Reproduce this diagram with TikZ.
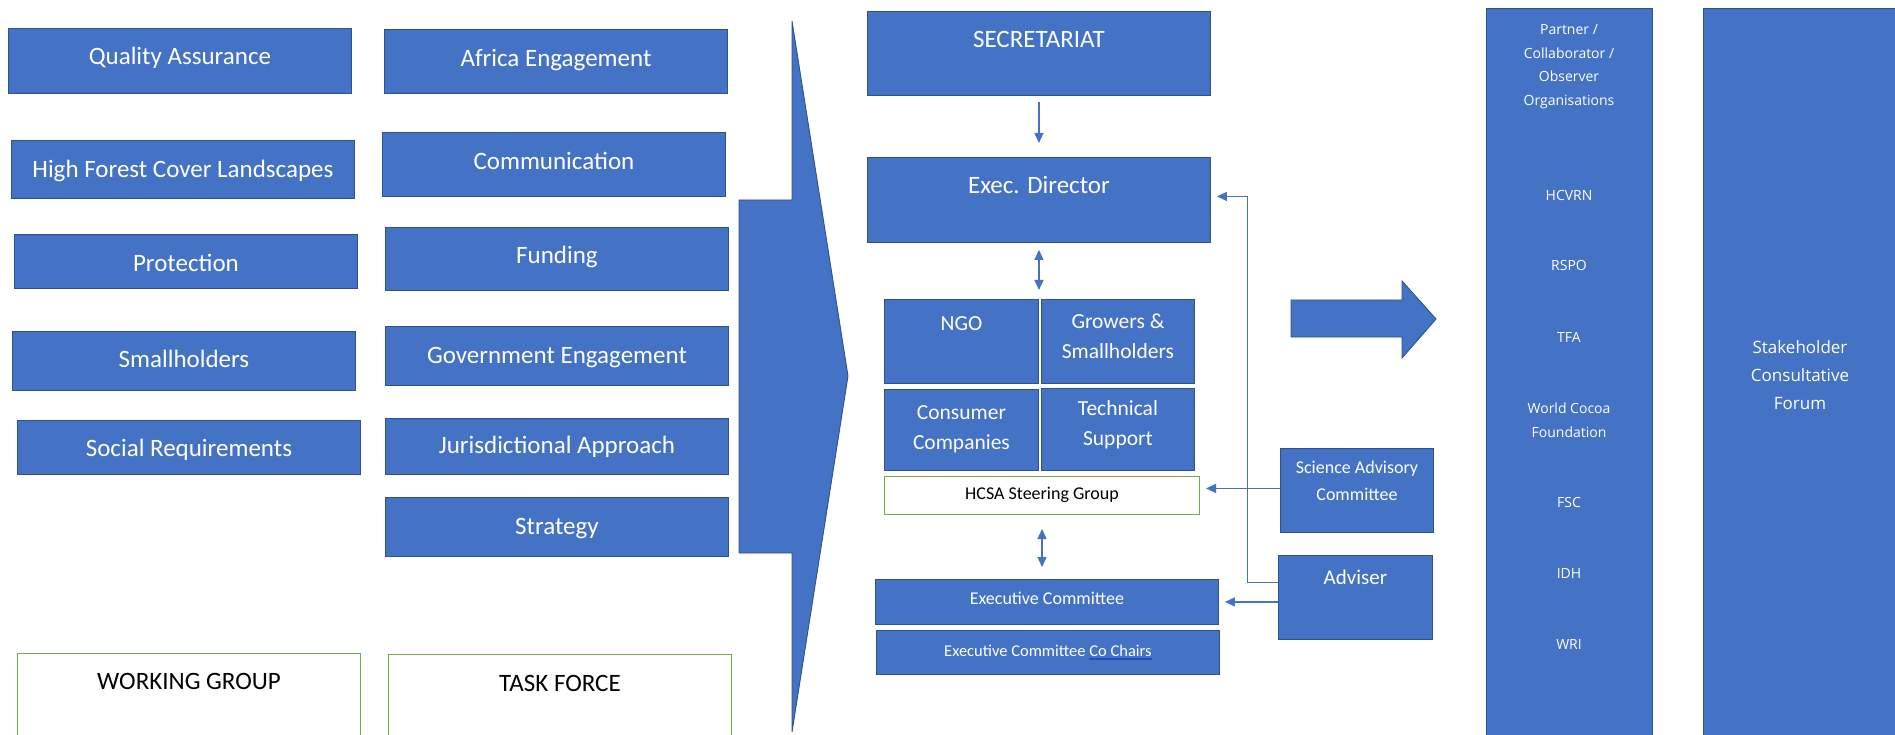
\documentclass[tikz,border=0pt]{standalone}
\usepackage{fontspec}
\setmainfont{Carlito}
\newfontfamily\osans{Open Sans}
\usetikzlibrary{arrows.meta}

\definecolor{boxblue}{HTML}{4472C4}
\definecolor{boxedge}{HTML}{2F528F}
\definecolor{grpgreen}{HTML}{70AD47}
\definecolor{linkblue}{HTML}{1F4FC8}

% subrayado azul bajo texto blanco
\newcommand{\blueline}[1]{\setbox1=\hbox{#1}\makebox[0pt][l]{\color{linkblue}\rule[-3.5pt]{\wd1}{1.6pt}}\box1}

\tikzset{
  unitbox/.style={draw=boxedge, line width=0.9pt, fill=boxblue, text=white,
    anchor=north west, inner sep=0pt, align=center},
  grpbox/.style={draw=grpgreen, line width=1pt, fill=white, text=black,
    anchor=north west, inner sep=0pt, align=center},
  bigtxt/.style={font=\fontsize{25pt}{30pt}\selectfont, minimum width=343pt},
  celltxt/.style={font=\fontsize{21.5pt}{30.5pt}\selectfont},
  smalltxt/.style={font=\fontsize{18pt}{27pt}\selectfont},
  coltxt/.style={font=\osans\fontsize{14pt}{23.5pt}\selectfont, text=white,
    align=center, anchor=base, inner sep=0pt},
  link/.style={draw=boxblue, line width=1.3pt, -{Triangle[length=10pt,width=9pt]}},
  twoway/.style={link, {Triangle[length=10pt,width=9pt]}-{Triangle[length=10pt,width=9pt]}},
}

\begin{document}
\begin{tikzpicture}[x=1pt, y=-1pt]
    \clip (0,0) rectangle (1895,735);

    % Working groups (izquierda)
    \node[unitbox, bigtxt, text height=36pt, text depth=29pt] (qa) at (8,28) {Quality Assurance};
    \node[unitbox, bigtxt, text height=37pt, text depth=21pt] (hfcl) at (11,140) {High Forest Cover Landscapes};
    \node[unitbox, bigtxt, text height=37pt, text depth=17pt] (prot) at (14,234) {Protection};
    \node[unitbox, bigtxt, text height=36pt, text depth=23pt] (smh) at (12,331) {Smallholders};
    \node[unitbox, bigtxt, text height=36pt, text depth=18pt] (soc) at (17,420) {Social Requirements};
    \node[grpbox, bigtxt, text height=36pt, text depth=70pt] (wg) at (17,653) {WORKING GROUP};

    % Task forces
    \node[unitbox, bigtxt, text height=37pt, text depth=27pt] (afr) at (384,29) {Africa Engagement};
    \node[unitbox, bigtxt, text height=37pt, text depth=27pt] (comm) at (382,132) {Communication};
    \node[unitbox, bigtxt, text height=36pt, text depth=27pt] (fund) at (385,227) {Funding};
    \node[unitbox, bigtxt, text height=37pt, text depth=22pt] (gov) at (385,326) {Government Engagement};
    \node[unitbox, bigtxt, text height=35pt, text depth=21pt] (jur) at (385,418) {Jurisdictional Approach};
    \node[unitbox, bigtxt, text height=37pt, text depth=22pt] (strat) at (385,497) {Strategy};
    \node[grpbox, bigtxt, text height=37pt, text depth=70pt] (tf) at (388,654) {TASK FORCE};

    % Flecha grande
    \fill[boxblue, draw=boxedge, line width=0.9pt] (739,200) -- (792,200) -- (792,21) -- (848,376)
        -- (792,732) -- (792,553) -- (739,553) -- cycle;

    % Secretariado y grupo directivo
    \node[unitbox, bigtxt, text height=36pt, text depth=48pt] (sec) at (867,11) {SECRETARIAT};
    \node[unitbox, bigtxt, text height=36pt, text depth=49pt] (ed) at (867,157) {Exec. Director};
    \node[unitbox, celltxt, minimum width=154pt, text height=31pt, text depth=53pt] (ngo) at (884,299) {NGO};
    \node[unitbox, celltxt, minimum width=153pt, text height=59.5pt, text depth=24.5pt] (grow) at (1041,299) {Growers \&\\Smallholders};
    \node[unitbox, celltxt, minimum width=154pt, text height=60.5pt, text depth=20.5pt] (cons) at (884,389) {Consumer\\Companies};
    \node[unitbox, celltxt, minimum width=153pt, text height=57.5pt, text depth=24.5pt] (tech) at (1041,388) {Technical\\Support};
    \node[grpbox, smalltxt, minimum width=315pt, text height=23pt, text depth=15pt] (hcsa) at (884,476) {HCSA Steering Group};
    \node[unitbox, smalltxt, minimum width=343pt, text height=25pt, text depth=20pt] (ec) at (875,579) {Executive Committee};
    \node[unitbox, font=\fontsize{16.5pt}{20pt}\selectfont, minimum width=343pt, text height=26pt, text depth=18pt]
        (ecc) at (876,630) {Executive Committee \blueline{Co Chairs}};

    % Asesores
    \node[unitbox, smalltxt, minimum width=153pt, text height=52pt, text depth=32pt] (sac) at (1280,448) {Science Advisory\\Committee};
    \node[unitbox, font=\fontsize{21pt}{26pt}\selectfont, minimum width=154pt, text height=29pt, text depth=55pt] (adv) at (1278,555) {Adviser};

    % Conectores
    \draw[link, shorten <=6pt, shorten >=14pt] (sec) -- (ed);
    \draw[twoway, shorten <=7pt, shorten >=9pt] (ed.south) -- (ed.south |- ngo.north);
    \draw[twoway, shorten <=14pt, shorten >=12pt] (hcsa) -- (hcsa |- ec.north);
    \draw[link, shorten >=6pt] ([yshift=2pt]sac.west) -- ([yshift=2pt]sac.west -| hcsa.east);
    \draw[link, shorten >=6pt] (adv.west |- ec.east) -- (ec.east);
    \draw[link, shorten >=6pt] ([yshift=15pt]adv.west) -- ++(-30.4,0) |- ([yshift=3.5pt]ed.east);

    % Flecha a la derecha
    \fill[boxblue, draw=boxedge, line width=0.9pt] (1291,300) -- (1402,300) -- (1402,281) -- (1436,319)
        -- (1402,358) -- (1402,337) -- (1291,337) -- cycle;

    % Organizaciones asociadas
    \node[unitbox, minimum width=166pt, minimum height=760pt] (orgs) at (1486,8) {};
    \node[coltxt] (orgs-head) at (1569,105.5) {Partner /\\Collaborator /\\Observer\\Organisations};
    \node[coltxt] (hcvrn) at (1569,200.5) {HCVRN};
    \node[coltxt] (rspo) at (1569,271) {RSPO};
    \node[coltxt] (tfa) at (1569,342) {TFA};
    \node[coltxt] (wcf) at (1569,437) {World Cocoa\\Foundation};
    \node[coltxt] (fsc) at (1569,507.5) {FSC};
    \node[coltxt] (idh) at (1569,578) {IDH};
    \node[coltxt] (wri) at (1569,649) {WRI};

    % Foro
    \node[unitbox, minimum width=200pt, minimum height=760pt] (forum) at (1703,8) {};
    \node[coltxt, font=\osans\fontsize{17pt}{28pt}\selectfont] (forum-txt) at (1800,409.5) {Stakeholder\\Consultative\\Forum};
\end{tikzpicture}
\end{document}
